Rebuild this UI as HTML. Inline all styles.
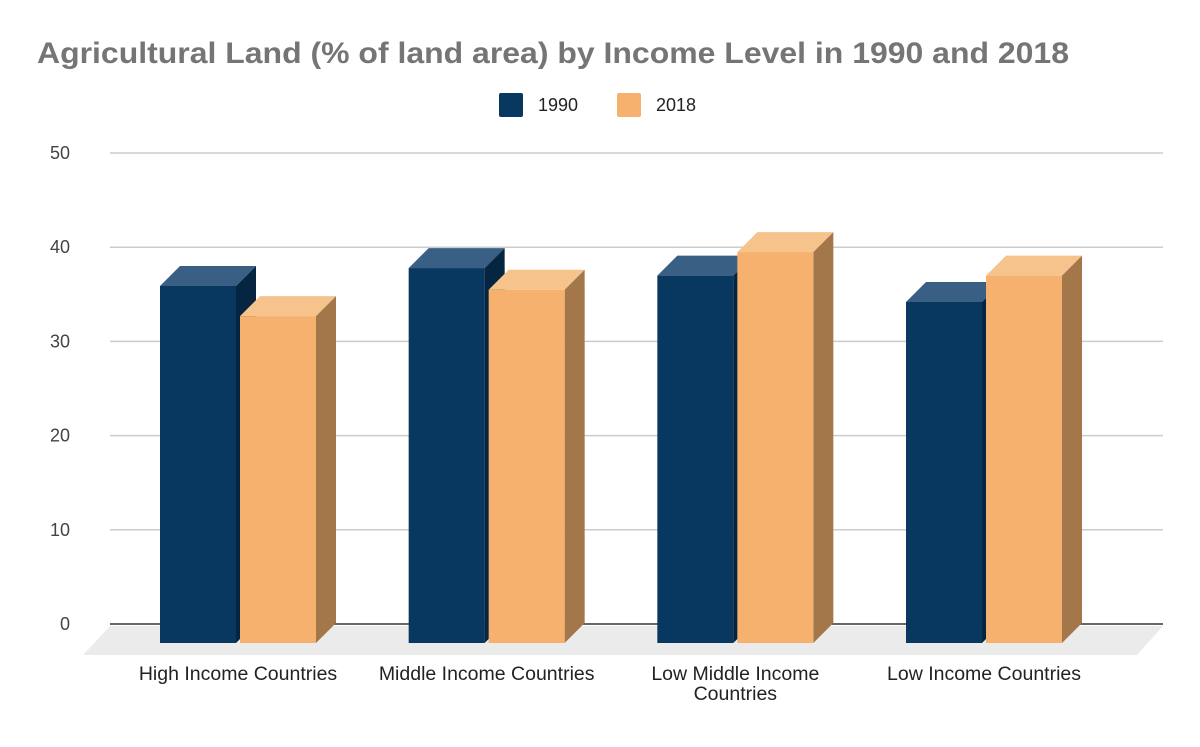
<!DOCTYPE html>
<html><head><meta charset="utf-8"><style>
body{margin:0;background:#fff;}
svg text{font-family:"Liberation Sans",Arial,sans-serif;}
</style></head><body>
<svg id="chart" width="1200" height="742" viewBox="0 0 1200 742" xmlns="http://www.w3.org/2000/svg">
<text x="37" y="63" font-size="30" font-weight="bold" fill="#757575" textLength="1032" lengthAdjust="spacingAndGlyphs">Agricultural Land (% of land area) by Income Level in 1990 and 2018</text>
<g>
<rect x="499" y="93" width="24" height="24" rx="2" fill="#08375f"/>
<text x="538" y="111" font-size="18" fill="#222">1990</text>
<rect x="617" y="93" width="24" height="24" rx="2" fill="#f5b16d"/>
<text x="656" y="111" font-size="18" fill="#222">2018</text>
</g>
<g id="grid"></g>
<g id="bars"></g>
<g id="xlabels"></g>
</svg>
<script>
const categories=[["High Income Countries"],["Middle Income Countries"],["Low Middle Income","Countries"],["Low Income Countries"]];
const series1990=[37.9,39.8,39.0,36.2];
const series2018=[34.7,37.5,41.5,39.0];
const yTicks=[0,10,20,30,40,50];
const NS="http://www.w3.org/2000/svg";
const gGrid=document.getElementById('grid'),gBars=document.getElementById('bars'),gX=document.getElementById('xlabels');
const gridY=v=>624-v*9.42;
const frontBase=643, dx=20, dy=20;
const barH=v=>v*9.42;
function mk(tag,attrs,parent){const e=document.createElementNS(NS,tag);for(const k in attrs)e.setAttribute(k,attrs[k]);parent.appendChild(e);return e;}
let fl=mk('polygon',{points:"83,655 1137,655 1163,626 110,626",fill:"#ebebeb"},gGrid);


yTicks.forEach(v=>{
  const y=gridY(v);
  const l=mk('line',{x1:110,x2:1163,y1:y,y2:y,stroke:v===0?"#333":"#ccc","stroke-width":1.5},gGrid);
  
  
  const t=mk('text',{x:70,y:y+6,"font-size":18,fill:"#444","text-anchor":"end"},gGrid);
  t.textContent=v;
  
  
});
const groupStart=160, groupStep=248.67, bw=76;
function bar(x,v,cols,name){
  const h=barH(v), top=frontBase-h;
  const g=mk('g',{},gBars);
  
  
  mk('polygon',{points:`${x},${top} ${x+dx},${top-dy} ${x+bw+dx},${top-dy} ${x+bw},${top}`,fill:cols[1]},g);
  mk('polygon',{points:`${x+bw},${top} ${x+bw+dx},${top-dy} ${x+bw+dx},${frontBase-dy} ${x+bw},${frontBase}`,fill:cols[2]},g);
  mk('rect',{x:x,y:top,width:bw,height:h,fill:cols[0]},g);
}
categories.forEach((c,i)=>{
  const x0=groupStart+i*groupStep;
  bar(x0,series1990[i],["#08375f","#3a5f85","#062540"],'bar-1990-'+(i+1));
  bar(x0+80,series2018[i],["#f5b16d","#f7c38d","#a3774a"],'bar-2018-'+(i+1));
  const t=mk('text',{x:x0+78,y:680,"font-size":19.5,fill:"#222","text-anchor":"middle"},gX);
  
  
  c.forEach((s,j)=>{const ts=mk('tspan',{x:x0+78,dy:j?20:0},t);ts.textContent=s;});
});
</script>
</body></html>
